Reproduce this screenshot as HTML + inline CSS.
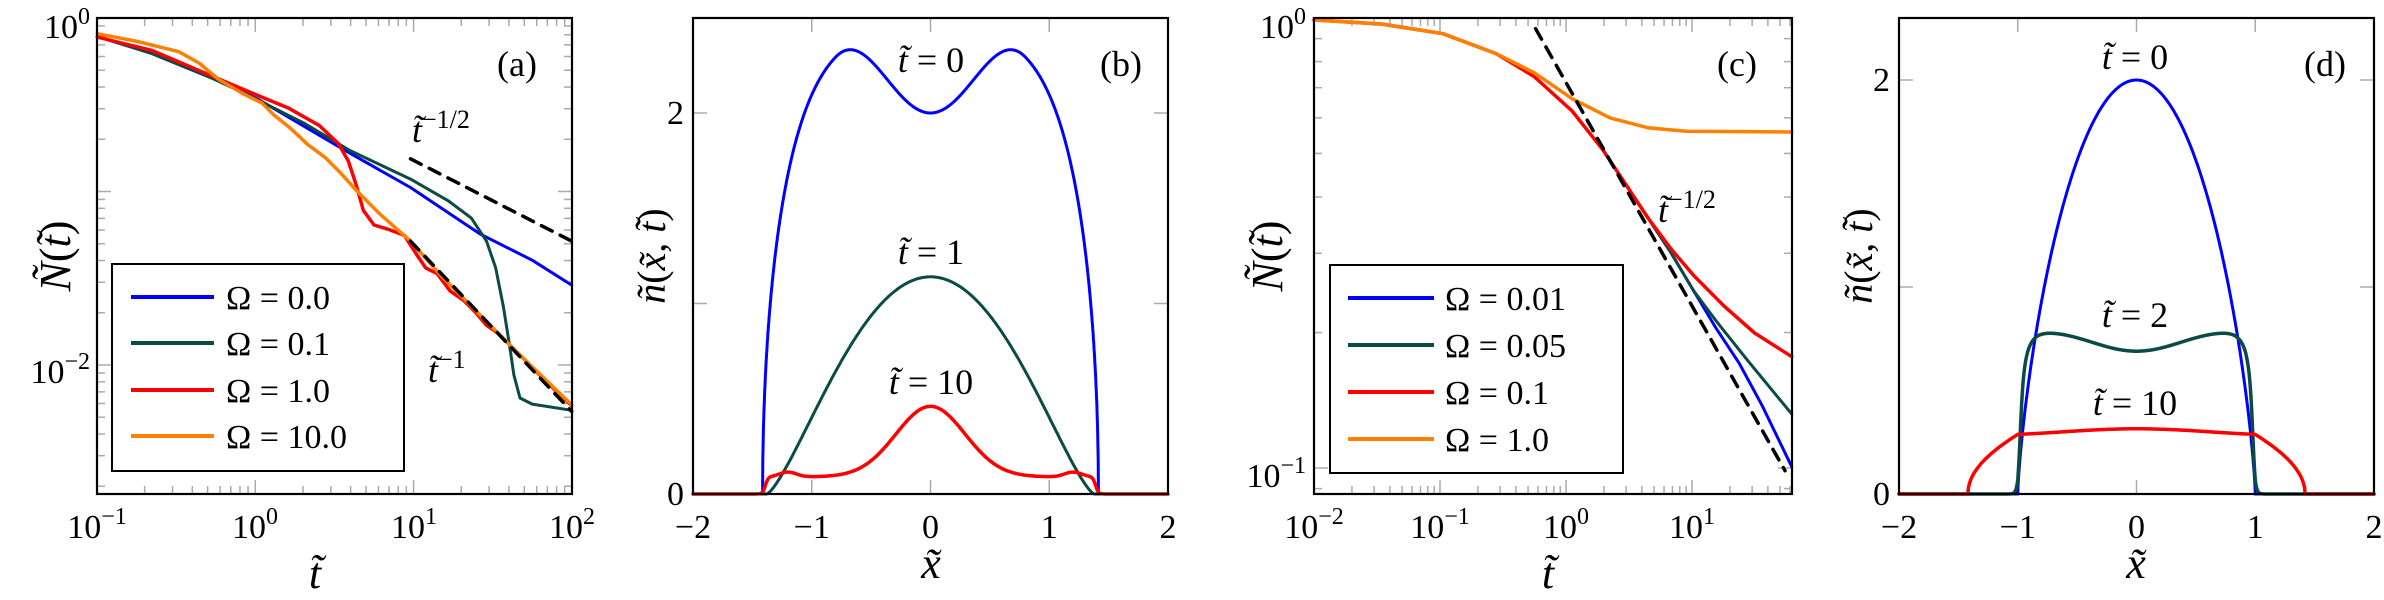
<!DOCTYPE html>
<html><head><meta charset="utf-8"><style>
html,body{margin:0;padding:0;background:#fff;}
svg{display:block;}
svg text{font-family:"Liberation Serif","DejaVu Serif",serif;fill:#000;}
.it{font-style:italic;}
</style></head><body>
<svg id="s" width="2384" height="600" viewBox="0 0 2384 600" xmlns="http://www.w3.org/2000/svg" font-family="Liberation Serif, DejaVu Serif, serif">
<g id="ticks" stroke="#aaa" stroke-width="1.5"></g>
<g id="curves" fill="none" stroke-linejoin="round" stroke-linecap="round"></g>
<g id="frames" fill="none" stroke="#000" stroke-width="2.2">
<rect x="97" y="18" width="475" height="476"/>
<rect x="693" y="18" width="475" height="476"/>
<rect x="1314" y="18" width="478" height="476"/>
<rect x="1899" y="18" width="475" height="476"/>
</g>
<rect x="112" y="264" width="292" height="207" fill="#fff" stroke="#000" stroke-width="2"/>
<g stroke-width="4">
<line x1="131" y1="297" x2="214" y2="297" stroke="#0000ff"/>
<line x1="131" y1="343" x2="214" y2="343" stroke="#0b4a45"/>
<line x1="131" y1="390" x2="214" y2="390" stroke="#ff0000"/>
<line x1="131" y1="436" x2="214" y2="436" stroke="#ff8000"/>
</g>
<g font-size="34">
<text x="226" y="309">Ω = 0.0</text>
<text x="226" y="355">Ω = 0.1</text>
<text x="226" y="402">Ω = 1.0</text>
<text x="226" y="448">Ω = 10.0</text>
</g>
<rect x="1330" y="265" width="293" height="208" fill="#fff" stroke="#000" stroke-width="2"/>
<g stroke-width="4">
<line x1="1348" y1="298" x2="1434" y2="298" stroke="#0000ff"/>
<line x1="1348" y1="345" x2="1434" y2="345" stroke="#0b4a45"/>
<line x1="1348" y1="392" x2="1434" y2="392" stroke="#ff0000"/>
<line x1="1348" y1="439" x2="1434" y2="439" stroke="#ff8000"/>
</g>
<g font-size="34">
<text x="1445" y="310">Ω = 0.01</text>
<text x="1445" y="357">Ω = 0.05</text>
<text x="1445" y="404">Ω = 0.1</text>
<text x="1445" y="451">Ω = 1.0</text>
</g>
<g id="labels" font-size="34"></g>
<g font-size="36">
<text x="517" y="76" text-anchor="middle">(a)</text>
<text x="1121" y="76" text-anchor="middle">(b)</text>
<text x="1737" y="76" text-anchor="middle">(c)</text>
<text x="2325" y="76" text-anchor="middle">(d)</text>
<text x="412" y="142"><tspan class="it">t̃</tspan><tspan font-size="26" dy="-14">−1/2</tspan></text>
<text x="428" y="382"><tspan class="it">t̃</tspan><tspan font-size="26" dy="-14">−1</tspan></text>
<text x="1658" y="222"><tspan class="it">t̃</tspan><tspan font-size="26" dy="-14">−1/2</tspan></text>
<text x="931" y="72" text-anchor="middle"><tspan class="it">t̃</tspan> = 0</text>
<text x="931" y="264" text-anchor="middle"><tspan class="it">t̃</tspan> = 1</text>
<text x="931" y="394" text-anchor="middle"><tspan class="it">t̃</tspan> = 10</text>
<text x="2135" y="69" text-anchor="middle"><tspan class="it">t̃</tspan> = 0</text>
<text x="2135" y="327" text-anchor="middle"><tspan class="it">t̃</tspan> = 2</text>
<text x="2135" y="415" text-anchor="middle"><tspan class="it">t̃</tspan> = 10</text>
</g>
<g font-size="44">
<text x="315" y="588" text-anchor="middle" class="it">t̃</text>
<text x="931" y="578" text-anchor="middle" class="it">x̃</text>
<text x="1548" y="588" text-anchor="middle" class="it">t̃</text>
<text x="2136" y="578" text-anchor="middle" class="it">x̃</text>
<text transform="translate(70,256) rotate(-90)" text-anchor="middle"><tspan class="it">Ñ</tspan>(<tspan class="it">t̃</tspan>)</text>
<text transform="translate(665,256) rotate(-90)" text-anchor="middle" font-size="40"><tspan class="it">ñ</tspan>(<tspan class="it">x̃</tspan>, <tspan class="it">t̃</tspan>)</text>
<text transform="translate(1282,256) rotate(-90)" text-anchor="middle"><tspan class="it">Ñ</tspan>(<tspan class="it">t̃</tspan>)</text>
<text transform="translate(1872,256) rotate(-90)" text-anchor="middle" font-size="40"><tspan class="it">ñ</tspan>(<tspan class="it">x̃</tspan>, <tspan class="it">t̃</tspan>)</text>
</g>
</svg>
<script>
var NS="http://www.w3.org/2000/svg";
function el(p,tag,a,txt){var e=document.createElementNS(NS,tag);for(var k in a)e.setAttribute(k,a[k]);if(txt!==undefined)e.textContent=txt;document.getElementById(p).appendChild(e);return e;}
function path(pts,col,w,dash){var d="M"+pts.map(function(p){return p[0].toFixed(1)+","+p[1].toFixed(1)}).join("L");var a={d:d,stroke:col,"stroke-width":w};if(dash)a["stroke-dasharray"]=dash;el("curves","path",a);}
function Z(pts,off){return pts.map(function(p){return [p[0]/1.3154+(off||0),p[1]/2.613];});}
var T="#0b4a45";
function tl(x1,y1,x2,y2){el("ticks","line",{x1:x1,y1:y1,x2:x2,y2:y2});}
function logTicksX(x0,dec,n,xmax){for(var k=0;k<n;k++)for(var m=1;m<10;m++){var x=x0+dec*(k+Math.log10(m));if(x>xmax+0.5)continue;var L=m==1?14:8;tl(x,494,x,494-L);tl(x,18,x,18+L);}}
function logTicksY(y0,dec,n,xl,xr){for(var k=-1;k<n;k++)for(var m=1;m<10;m++){var y=y0+dec*(k+1-Math.log10(m));if(y<18||y>494)continue;var L=m==1?14:8;tl(xl,y,xl+L,y);tl(xr,y,xr-L,y);}}
logTicksX(97,158.3,3,572);logTicksY(18,173.5,3,97,572);
logTicksX(1314,126,4,1792);logTicksY(18,450,2,1314,1792);
[-1,0,1].forEach(function(v){var x=930.5+v*118.75;tl(x,494,x,480);tl(x,18,x,32);x=2136.5+v*118.75;tl(x,494,x,480);tl(x,18,x,32);});
[1,2].forEach(function(v){var y=494-v*190.5;tl(693,y,707,y);tl(1168,y,1154,y);y=494-v*207;tl(1899,y,1913,y);tl(2374,y,2360,y);});
function lab(x,y,t,sup,anc){var e=el("labels","text",{x:x,y:y,"text-anchor":anc||"middle"});e.textContent=t;if(sup){var s=document.createElementNS(NS,"tspan");s.setAttribute("font-size","24");s.setAttribute("dy","-14");s.textContent=sup;e.appendChild(s);}}
lab(97,538,"10","−1");lab(255,538,"10","0");lab(414,538,"10","1");lab(572,538,"10","2");
lab(90,38,"10","0","end");lab(90,383,"10","−2","end");
lab(1314,538,"10","−2");lab(1440,538,"10","−1");lab(1566,538,"10","0");lab(1692,538,"10","1");
lab(1306,38,"10","0","end");lab(1306,487,"10","−1","end");
[-2,-1,0,1,2].forEach(function(v){lab(930.5+v*118.75,538,(v<0?"−":"")+Math.abs(v));lab(2136.5+v*118.75,538,(v<0?"−":"")+Math.abs(v));});
lab(684,505,"0",null,"end");lab(684,124,"2",null,"end");lab(1890,505,"0",null,"end");lab(1890,91,"2",null,"end");
// panel a
path(Z([[128,95],[200,140],[280,205],[340,260],[400,330],[460,400],[540,490],[632,612],[700,680],[752,745]]),"#0000ff",3);
path(Z([[128,95],[200,140],[280,205],[340,262],[400,322],[460,393],[540,468],[590,525],[620,570],[640,630],[652,700],[662,800],[670,900],[676,980],[684,1040],[700,1056],[752,1072]]),T,3);
path(Z([[128,97],[200,132],[280,200],[330,242],[380,283],[420,328],[445,375],[458,420],[468,480],[478,550],[492,588],[512,600],[532,615],[548,665],[560,700],[575,715],[592,760],[610,785],[625,815],[640,850],[655,870],[690,940],[720,1000],[752,1060]]),"#ff0000",3.5);
path(Z([[128,88],[180,108],[235,135],[262,165],[288,208],[318,243],[345,270],[360,300],[382,335],[405,378],[428,412],[448,452],[470,500],[500,560],[540,630],[580,720],[620,800],[680,920],[752,1058]]),"#ff8000",3.5);
path(Z([[540,630],[752,1075]]),"#000",3.5,"12,9");
path(Z([[540,415],[752,630]]),"#000",3.5,"12,9");
// panel b
function fn(f,x0,x1,ox,sx,oy,sy,n){var p=[];for(var i=0;i<=n;i++){var x=x0+(x1-x0)*i/n;p.push([ox+x*sx,oy-f(x)*sy]);}return p;}
function b0(x){var a=Math.abs(x);if(a>=1.414)return 0;var h=a<=0.8?2+0.42*Math.pow(Math.sin(Math.PI*a/1.6),2):2.42;return h*Math.sqrt(1-Math.pow(a/1.414,4));}
function b1(x){var u=1-(x/1.38)*(x/1.38);return u<=0?0:1.14*Math.pow(u,1.4);}
function sm(a,e,w){return 1/(1+Math.exp((a-e)/w));}
function b10(x){var a=Math.abs(x);return (0.37*Math.exp(-x*x/0.17)+0.09+0.025*Math.exp(-(a-1.2)*(a-1.2)/0.01))*sm(a,1.39,0.012);}
path(fn(b0,-2,2,930.5,118.75,494,190.5,2000),"#0000ff",3);
path(fn(b1,-2,2,930.5,118.75,494,190.5,800),T,3);
path(fn(b10,-2,2,930.5,118.75,494,190.5,800),"#ff0000",3.5);
// panel c
var O=1192;
path(Z([[160,52],[250,63],[330,88],[400,140],[450,200],[500,290],[540,390],[570,480],[600,570],[630,660],[660,760],[690,860],[720,950],[750,1060],[789,1220]],O),"#0000ff",3);
path(Z([[600,570],[630,660],[660,760],[690,840],[730,940],[789,1082]],O),T,3);
path(Z([[160,52],[250,63],[330,88],[400,140],[450,200],[500,290],[540,390],[570,480],[600,570],[630,650],[660,720],[700,800],[740,870],[789,932]],O),"#ff0000",3.5);
path(Z([[160,52],[250,63],[330,88],[400,140],[450,190],[500,258],[550,308],[600,334],[650,343],[789,345]],O),"#ff8000",3.5);
path(Z([[452,75],[780,1230]],O),"#000",3.5,"12,9");
// panel d
function d0(x){var u=1-x*x;return u<=0?0:2*Math.pow(u,0.75);}
function d2(x){var a=Math.abs(x);return (0.69+0.09*Math.pow(a/0.8,2)*Math.exp(1-Math.pow(a/0.8,2)))*sm(a,0.985,0.012)*(1-Math.exp(-Math.max(0,1.0-a)/0.05)*0.6);}
function d10(x){var a=Math.abs(x);if(a>=1.42)return 0;var e=Math.min(1,Math.sqrt((1.42-a)/0.42));return (0.3+0.015*Math.cos(a*2.5))*e;}
path(fn(d0,-2,2,2136.5,118.75,494,207,2000),"#0000ff",3);
path(fn(d2,-2,2,2136.5,118.75,494,207,1200),T,3.5);
path(fn(d10,-2,2,2136.5,118.75,494,207,1200),"#ff0000",3.5);
</script>
</body></html>
